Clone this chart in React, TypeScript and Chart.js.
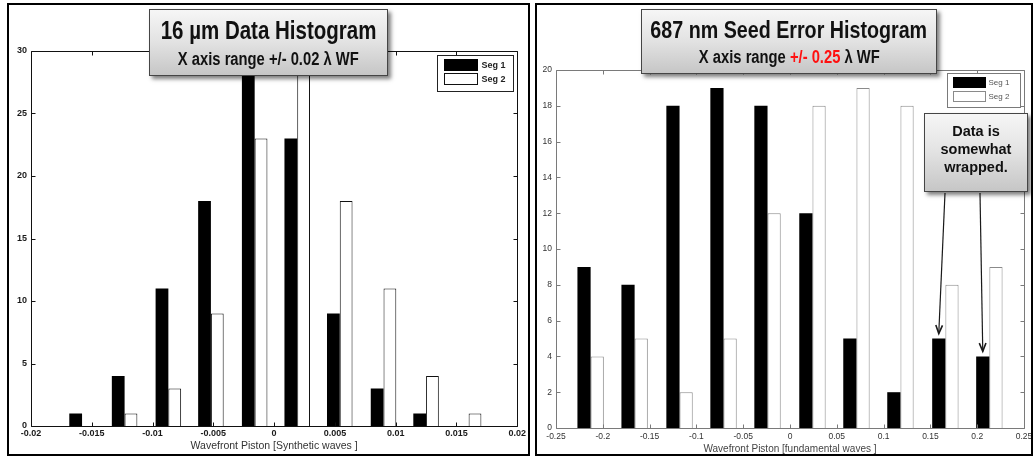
import React, { useEffect, useRef } from "react";
import { Chart, registerables } from "chart.js";

Chart.register(...registerables);

// ---------- DATA ----------
const seriesLabels = ["Seg 1", "Seg 2"];

// 16 µm data histogram (bin centres in synthetic waves)
const leftBins = [-0.0158, -0.0123, -0.0087, -0.0052, -0.0016, 0.0019, 0.0054, 0.009, 0.0125, 0.016];
const leftSeg1 = [1, 4, 11, 18, 30, 23, 9, 3, 1, 0];
const leftSeg2 = [0, 1, 3, 9, 23, 30, 18, 11, 4, 1];
const leftXTicks = [-0.02, -0.015, -0.01, -0.005, 0, 0.005, 0.01, 0.015, 0.02];
const leftXTickLabels = ["-0.02", "-0.015", "-0.01", "-0.005", "0", "0.005", "0.01", "0.015", "0.02"];
const leftYTicks = [0, 5, 10, 15, 20, 25, 30];
const leftXTitle = "Wavefront Piston [Synthetic waves ]";

// 687 nm seed error histogram (bin centres in fundamental waves)
const rightBins = [-0.213, -0.166, -0.118, -0.071, -0.024, 0.024, 0.071, 0.118, 0.166, 0.213];
const rightSeg1 = [9, 8, 18, 19, 18, 12, 5, 2, 5, 4];
const rightSeg2 = [4, 5, 2, 5, 12, 18, 19, 18, 8, 9];
const rightXTicks = [-0.25, -0.2, -0.15, -0.1, -0.05, 0, 0.05, 0.1, 0.15, 0.2, 0.25];
const rightXTickLabels = ["-0.25", "-0.2", "-0.15", "-0.1", "-0.05", "0", "0.05", "0.1", "0.15", "0.2", "0.25"];
const rightYTicks = [0, 2, 4, 6, 8, 10, 12, 14, 16, 18, 20];
const rightXTitle = "Wavefront Piston [fundamental waves ]";
const wrappedBarIndices = [8, 9]; // Seg 1 bars the note points at

const FONT = "'Liberation Sans', Arial, Helvetica, sans-serif";

type Cfg = {
  width: number;
  height: number;
  bins: number[];
  seg1: number[];
  seg2: number[];
  xMin: number;
  xMax: number;
  yMax: number;
  xTicks: number[];
  xLabels: string[];
  yTicks: number[];
  xTitle: string;
  padRight: number;
  padTop: number;
  yAxisW: number;
  xAxisH: number;
  axisColor: string;
  whiteEdge: string;
  tickFont: { size: number; weight?: string };
  tickColor: string;
  xTickPad: number;
  yTickPad: number;
  titleFont: { size: number; lineHeight: number };
  titleColor: string;
  titlePadBottom: number;
  tickLen: number;
  legend: {
    right: number; top: number; w: number; h: number;
    swX: number; swW: number; swH: number; rows: number[]; textX: number;
    font: string; color: string; border: string;
  };
  arrows?: { index: number; from: [number, number] }[];
};

function makeDecor(cfg: Cfg) {
  return {
    id: "matlabDecor",
    afterDatasetsDraw(chart: any) {
      const { ctx, chartArea: a, scales } = chart;
      ctx.save();
      // axes box and inward ticks
      ctx.strokeStyle = cfg.axisColor;
      ctx.lineWidth = 1;
      ctx.beginPath();
      const L = Math.round(a.left) + 0.5;
      const R = Math.round(a.right) + 0.5;
      const T = Math.round(a.top) + 0.5;
      const B = Math.round(a.bottom) + 0.5;
      ctx.rect(L, T, R - L, B - T);
      scales.x.ticks.forEach((_t: any, i: number) => {
        const x = Math.round(scales.x.getPixelForTick(i)) + 0.5;
        ctx.moveTo(x, B); ctx.lineTo(x, B - cfg.tickLen);
        ctx.moveTo(x, T); ctx.lineTo(x, T + cfg.tickLen);
      });
      scales.y.ticks.forEach((_t: any, i: number) => {
        const y = Math.round(scales.y.getPixelForTick(i)) + 0.5;
        ctx.moveTo(L, y); ctx.lineTo(L + cfg.tickLen, y);
        ctx.moveTo(R, y); ctx.lineTo(R - cfg.tickLen, y);
      });
      ctx.stroke();

      // legend box
      const lg = cfg.legend;
      const bx = Math.round(a.right - lg.right - lg.w) + 0.5;
      const by = Math.round(a.top + lg.top) + 0.5;
      ctx.fillStyle = "#ffffff";
      ctx.fillRect(bx, by, lg.w, lg.h);
      ctx.strokeStyle = lg.border;
      ctx.strokeRect(bx, by, lg.w, lg.h);
      chart.data.datasets.forEach((ds: any, i: number) => {
        const sy = by + lg.rows[i];
        ctx.fillStyle = ds.backgroundColor;
        ctx.fillRect(bx + lg.swX, sy, lg.swW, lg.swH);
        ctx.strokeStyle = ds.borderColor;
        ctx.strokeRect(bx + lg.swX, sy, lg.swW, lg.swH);
        ctx.fillStyle = lg.color;
        ctx.font = lg.font;
        ctx.textBaseline = "middle";
        ctx.textAlign = "left";
        ctx.fillText(ds.label, bx + lg.textX, sy + lg.swH / 2 + 0.5);
      });

      // arrows pointing at bars
      (cfg.arrows || []).forEach((ar) => {
        const el = chart.getDatasetMeta(0).data[ar.index];
        const tx = el.x;
        const ty = el.y - 5;
        const [fx, fy] = ar.from;
        ctx.strokeStyle = "#1a1a1a";
        ctx.lineWidth = 1.2;
        ctx.beginPath();
        ctx.moveTo(fx, fy);
        ctx.lineTo(tx, ty);
        ctx.stroke();
        const ang = Math.atan2(ty - fy, tx - fx);
        const hl = 9;
        ctx.lineWidth = 1.6;
        ctx.beginPath();
        ctx.moveTo(tx - hl * Math.cos(ang - 0.38), ty - hl * Math.sin(ang - 0.38));
        ctx.lineTo(tx, ty);
        ctx.lineTo(tx - hl * Math.cos(ang + 0.38), ty - hl * Math.sin(ang + 0.38));
        ctx.stroke();
      });
      ctx.restore();
    },
  };
}

function Histogram({ cfg }: { cfg: Cfg }) {
  const ref = useRef<HTMLCanvasElement>(null);
  useEffect(() => {
    const chart = new Chart(ref.current as HTMLCanvasElement, {
      type: "bar",
      data: {
        labels: cfg.bins,
        datasets: [
          { label: seriesLabels[0], data: cfg.seg1, backgroundColor: "#000000", borderColor: "#000000", borderWidth: 0 },
          { label: seriesLabels[1], data: cfg.seg2, backgroundColor: "#ffffff", borderColor: cfg.whiteEdge, borderWidth: 1 },
        ],
      },
      options: {
        responsive: false,
        animation: false,
        devicePixelRatio: 1,
        events: [],
        layout: { padding: { left: 0, right: cfg.padRight, top: cfg.padTop, bottom: 0 } },
        datasets: { bar: { categoryPercentage: 0.6, barPercentage: 1, grouped: true } },
        plugins: { legend: { display: false }, tooltip: { enabled: false }, title: { display: false } },
        scales: {
          x: {
            type: "linear",
            min: cfg.xMin,
            max: cfg.xMax,
            offset: false,
            grid: { display: false, offset: false, drawTicks: false },
            border: { display: false },
            afterBuildTicks: (s: any) => { s.ticks = cfg.xTicks.map((v) => ({ value: v })); },
            afterFit: (s: any) => { s.height = cfg.xAxisH; },
            ticks: {
              autoSkip: false,
              maxRotation: 0,
              padding: cfg.xTickPad,
              color: cfg.tickColor,
              font: { family: FONT, size: cfg.tickFont.size, weight: cfg.tickFont.weight as any },
              callback: (_v: any, i: number) => cfg.xLabels[i],
            },
            title: {
              display: true,
              text: cfg.xTitle,
              color: cfg.titleColor,
              font: { family: FONT, size: cfg.titleFont.size, lineHeight: cfg.titleFont.lineHeight },
              padding: { top: 0, bottom: cfg.titlePadBottom },
            },
          },
          y: {
            type: "linear",
            min: 0,
            max: cfg.yMax,
            grid: { display: false, drawTicks: false },
            border: { display: false },
            afterBuildTicks: (s: any) => { s.ticks = cfg.yTicks.map((v) => ({ value: v })); },
            afterFit: (s: any) => { s.width = cfg.yAxisW; },
            ticks: {
              autoSkip: false,
              padding: cfg.yTickPad,
              color: cfg.tickColor,
              font: { family: FONT, size: cfg.tickFont.size, weight: cfg.tickFont.weight as any },
              callback: (v: any) => String(v),
            },
          },
        },
      } as any,
      plugins: [makeDecor(cfg)],
    });
    return () => chart.destroy();
  }, []);
  return (
    <canvas
      ref={ref}
      width={cfg.width}
      height={cfg.height}
      style={{ display: "block", width: cfg.width, height: cfg.height }}
    />
  );
}

const leftCfg: Cfg = {
  width: 519,
  height: 449,
  bins: leftBins,
  seg1: leftSeg1,
  seg2: leftSeg2,
  xMin: -0.02,
  xMax: 0.02,
  yMax: 30,
  xTicks: leftXTicks,
  xLabels: leftXTickLabels,
  yTicks: leftYTicks,
  xTitle: leftXTitle,
  padRight: 4,
  padTop: 46,
  yAxisW: 22,
  xAxisH: 28,
  axisColor: "#111111",
  whiteEdge: "#111111",
  tickFont: { size: 9, weight: "bold" },
  tickColor: "#1a1a1a",
  xTickPad: 2,
  yTickPad: 4,
  titleFont: { size: 10.5, lineHeight: 1.2 },
  titleColor: "#333333",
  titlePadBottom: 2,
  tickLen: 4,
  legend: {
    right: 4, top: 4, w: 76, h: 36, swX: 7, swW: 33, swH: 11, rows: [4, 18], textX: 44,
    font: "bold 9px " + FONT, color: "#222222", border: "#222222",
  },
};

const rightCfg: Cfg = {
  width: 510,
  height: 449,
  bins: rightBins,
  seg1: rightSeg1,
  seg2: rightSeg2,
  xMin: -0.25,
  xMax: 0.25,
  yMax: 20,
  xTicks: rightXTicks,
  xLabels: rightXTickLabels,
  yTicks: rightYTicks,
  xTitle: rightXTitle,
  padRight: 23,
  padTop: 65,
  yAxisW: 19,
  xAxisH: 26,
  axisColor: "#7a7a7a",
  whiteEdge: "#8a8a8a",
  tickFont: { size: 8.5 },
  tickColor: "#333333",
  xTickPad: 4,
  yTickPad: 4,
  titleFont: { size: 10, lineHeight: 1 },
  titleColor: "#444444",
  titlePadBottom: 0,
  tickLen: 4,
  legend: {
    right: 4, top: 3, w: 73, h: 34, swX: 6, swW: 32, swH: 10, rows: [4, 18], textX: 41,
    font: "8px " + FONT, color: "#555555", border: "#7a7a7a",
  },
  arrows: [
    { index: wrappedBarIndices[0], from: [408, 188] },
    { index: wrappedBarIndices[1], from: [443, 188] },
  ],
};

const calloutBox: React.CSSProperties = {
  position: "absolute",
  boxSizing: "border-box",
  border: "1px solid #454545",
  background: "linear-gradient(to bottom, #f6f6f6 0%, #e2e2e2 50%, #c6c6c6 100%)",
  boxShadow: "3px 3px 4px rgba(0,0,0,0.5)",
  color: "#111",
  fontFamily: FONT,
  fontWeight: "bold",
};

function Line({ top, size, children }: { top: number; size: number; children: React.ReactNode }) {
  return (
    <div
      style={{
        position: "absolute",
        left: -200,
        right: -200,
        top,
        textAlign: "center",
        whiteSpace: "nowrap",
        fontSize: size,
        lineHeight: size + "px",
      }}
    >
      <span style={{ display: "inline-block", transform: "scaleX(0.82)", transformOrigin: "center" }}>{children}</span>
    </div>
  );
}

export default function App() {
  return (
    <div style={{ position: "absolute", left: 0, top: 0, width: 1033, height: 458, background: "#fff", overflow: "hidden" }}>
      <div
        style={{
          position: "absolute", left: 7, top: 3, width: 523, height: 453,
          border: "2px solid #000", boxSizing: "border-box", overflow: "hidden",
        }}
      >
        <Histogram cfg={leftCfg} />
      </div>
      <div
        style={{
          position: "absolute", left: 535, top: 3, width: 498, height: 453,
          border: "2px solid #000", boxSizing: "border-box", overflow: "hidden",
        }}
      >
        <Histogram cfg={rightCfg} />
      </div>

      <div style={{ ...calloutBox, left: 149, top: 9, width: 239, height: 67 }}>
        <Line top={8} size={25}>16 µm Data Histogram</Line>
        <Line top={40} size={18}>X axis range +/- 0.02 λ WF</Line>
      </div>

      <div style={{ ...calloutBox, left: 641, top: 9, width: 296, height: 65 }}>
        <Line top={8} size={24}>687 nm Seed Error Histogram</Line>
        <Line top={38} size={18}>
          X axis range <span style={{ color: "#ff1010" }}>+/- 0.25</span> λ WF
        </Line>
      </div>

      <div style={{ ...calloutBox, left: 924, top: 113, width: 104, height: 79, fontSize: 14.5 }}>
        {["Data is", "somewhat", "wrapped."].map((t, i) => (
          <div
            key={t}
            style={{ position: "absolute", left: 0, right: 0, top: 8 + i * 18, textAlign: "center", lineHeight: "18px" }}
          >
            {t}
          </div>
        ))}
      </div>
    </div>
  );
}
